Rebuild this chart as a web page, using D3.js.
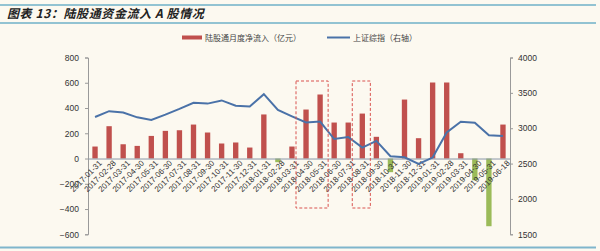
<!DOCTYPE html>
<html>
<head>
<meta charset="utf-8">
<script src="https://cdn.jsdelivr.net/npm/d3@7"></script>
<style>
  html, body { margin: 0; padding: 0; background: #fcf9f0; }
  svg { display: block; font-family: "Liberation Sans", Arial, sans-serif; }
  .cn { font-family: "Noto Sans CJK SC", sans-serif; }
</style>
</head>
<body>
<svg id="chart" width="600" height="251"></svg>
<script>
// categories (month ends)
const months = [
  "2017-01-31", "2017-02-28", "2017-03-31", "2017-04-30", "2017-05-31", "2017-06-30",
  "2017-07-31", "2017-08-31", "2017-09-30", "2017-10-31", "2017-11-30", "2017-12-31",
  "2018-01-31", "2018-02-28", "2018-03-31", "2018-04-30", "2018-05-31", "2018-06-30",
  "2018-07-31", "2018-08-31", "2018-09-30", "2018-10-31", "2018-11-30", "2018-12-31",
  "2019-01-31", "2019-02-28", "2019-03-31", "2019-04-30", "2019-05-31", "2019-06-18"
];
// monthly net inflow via Shanghai/Shenzhen connect (100m yuan)
const netFlow = [
  95, 256, 113, 100, 179, 219, 224, 269, 206, 119, 127, 87,
  349, -29, 95, 388, 507, 285, 285, 356, 172, -108, 467, 161,
  602, 602, 42, -172, -536, 269
];
// SSE composite (right axis)
const sseIndex = [
  3159, 3241, 3222, 3154, 3117, 3192, 3273, 3360, 3348, 3393, 3317, 3307,
  3481, 3259, 3168, 3082, 3095, 2847, 2876, 2725, 2821, 2603, 2588, 2494,
  2585, 2941, 3091, 3078, 2899, 2890
];
const leftTicks = [-600, -400, -200, 0, 200, 400, 600, 800];
const rightTicks = [1500, 2000, 2500, 3000, 3500, 4000];
// highlighted months (dashed boxes)
const highlights = [["2018-04-30", "2018-05-31"], ["2018-08-31", "2018-08-31"]];

const svg = d3.select("#chart");

// header
svg.append("line").attr("x1", 0).attr("x2", 596).attr("y1", 5).attr("y2", 5)
  .attr("stroke", "#6fb0c8").attr("stroke-width", 1.5);
svg.append("line").attr("x1", 0).attr("x2", 596).attr("y1", 23).attr("y2", 23)
  .attr("stroke", "#6fb0c8").attr("stroke-width", 1.5);
svg.append("line").attr("x1", 0).attr("x2", 596).attr("y1", 247.5).attr("y2", 247.5)
  .attr("stroke", "#7fb6cc").attr("stroke-width", 2);
svg.append("text").attr("class", "cn")
  .attr("x", 7).attr("y", 18)
  .attr("font-size", 12).attr("font-weight", "bold").attr("font-style", "italic")
  .attr("letter-spacing", 0.6)
  .attr("fill", "#222")
  .text("图表 13：陆股通资金流入 A 股情况");

const x = d3.scaleBand().domain(months).range([88, 510]).paddingInner(0.62).paddingOuter(0.31);
const yL = d3.scaleLinear().domain([-600, 800]).range([234.3, 57.5]);
const yR = d3.scaleLinear().domain([1500, 4000]).range([234.3, 57.5]);

// axes
const axisColor = "#9a9a9a";
const gl = svg.append("g").attr("transform", "translate(88,0)")
  .call(d3.axisLeft(yL).tickValues(leftTicks).tickSize(3).tickPadding(6).tickFormat(d3.format("d")));
const gr = svg.append("g").attr("transform", "translate(510,0)")
  .call(d3.axisRight(yR).tickValues(rightTicks).tickSize(3).tickPadding(5).tickFormat(d3.format("d")));
[gl, gr].forEach(g => {
  g.select(".domain").attr("stroke", axisColor);
  g.selectAll(".tick line").attr("stroke", axisColor);
  g.selectAll(".tick text").attr("fill", "#333").attr("font-size", 8.5)
    .attr("font-family", "Liberation Sans, Arial, sans-serif");
});

// bars
svg.append("g").selectAll("rect").data(months).join("rect")
  .attr("x", d => x(d))
  .attr("width", x.bandwidth())
  .attr("y", (d, i) => yL(Math.max(0, netFlow[i])))
  .attr("height", (d, i) => Math.abs(yL(netFlow[i]) - yL(0)))
  .attr("fill", (d, i) => netFlow[i] >= 0 ? "#c0504d" : "#9bbb59");

// category axis on zero line
const gx = svg.append("g").attr("transform", `translate(0,${yL(0)})`)
  .call(d3.axisBottom(x).tickSize(0).tickPadding(4));
gx.select(".domain").attr("stroke", "#8a98a8");
gx.selectAll(".tick text")
  .attr("fill", "#333").attr("font-size", 8)
  .attr("font-family", "Liberation Sans, Arial, sans-serif")
  .attr("text-anchor", "end")
  .attr("dx", "0.2em").attr("dy", "0.6em")
  .attr("transform", "rotate(-45)");

// SSE line
const line = d3.line().x((d, i) => x(months[i]) + x.bandwidth() / 2).y(d => yR(d));
svg.append("path").datum(sseIndex)
  .attr("d", line).attr("fill", "none")
  .attr("stroke", "#4a72a8").attr("stroke-width", 2);

// dashed highlight boxes
const step = x.step();
highlights.forEach(([a, b]) => {
  const x0 = x(a) - (step - x.bandwidth()) / 2 - 3;
  const x1 = x(b) + x.bandwidth() + (step - x.bandwidth()) / 2 + 1;
  svg.append("rect")
    .attr("x", x0).attr("y", 81).attr("width", x1 - x0).attr("height", 127)
    .attr("fill", "none").attr("stroke", "#d9534f").attr("stroke-width", 1)
    .attr("stroke-dasharray", "3,2");
});

// legend
const lg = svg.append("g").attr("class", "cn").attr("font-size", 8).attr("fill", "#444");
lg.append("rect").attr("x", 182).attr("y", 35.5).attr("width", 20).attr("height", 4).attr("fill", "#c0504d");
lg.append("text").attr("x", 205).attr("y", 40.5).text("陆股通月度净流入（亿元）");
lg.append("line").attr("x1", 327).attr("x2", 350).attr("y1", 37.5).attr("y2", 37.5)
  .attr("stroke", "#4a72a8").attr("stroke-width", 2);
lg.append("text").attr("x", 353).attr("y", 40.5).text("上证综指（右轴）");
</script>
</body>
</html>
